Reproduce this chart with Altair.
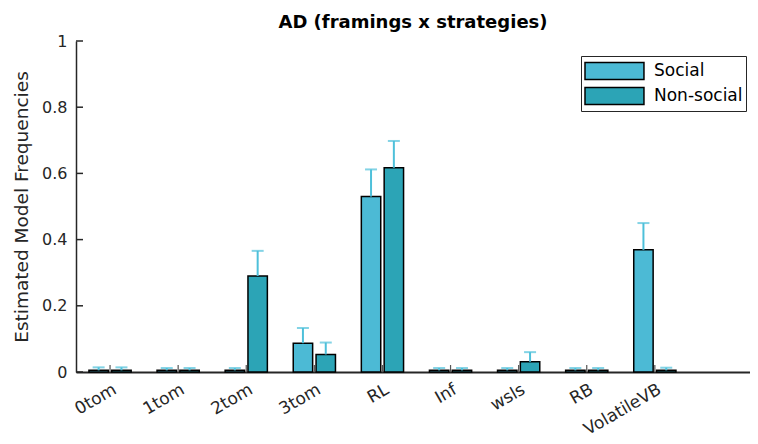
import altair as alt
import pandas as pd

categories = ["0tom", "1tom", "2tom", "3tom", "RL", "Inf", "wsls", "RB", "VolatileVB"]
blank_slot = [" "]
series = ["Social", "Non-social"]
social = [0.005, 0.005, 0.005, 0.087, 0.530, 0.005, 0.005, 0.005, 0.369]
nonsocial = [0.005, 0.005, 0.290, 0.053, 0.617, 0.005, 0.031, 0.005, 0.005]
social_upper = [0.014, 0.012, 0.012, 0.133, 0.612, 0.012, 0.012, 0.012, 0.450]
nonsocial_upper = [0.014, 0.012, 0.366, 0.089, 0.698, 0.012, 0.060, 0.012, 0.013]
y_ticks = [0, 0.2, 0.4, 0.6, 0.8, 1]

rows = []
for i, c in enumerate(categories):
    rows.append({"cat": c, "grp": "Social", "val": social[i], "up": social_upper[i]})
    rows.append({"cat": c, "grp": "Non-social", "val": nonsocial[i], "up": nonsocial_upper[i]})
df = pd.DataFrame(rows)

W, H = 674, 331
FONT = "DejaVu Sans"
TXT = "#262626"

xscale = alt.Scale(domain=categories + blank_slot, paddingInner=0.38, paddingOuter=0.19, range=[0, 681])
xoff = alt.XOffset("grp:N", scale=alt.Scale(domain=series, paddingInner=0.15))
yscale = alt.Scale(domain=[0, 1], nice=False)

x_enc = alt.X("cat:N", scale=xscale, sort=None,
              axis=alt.Axis(values=categories, ticks=False, labelAngle=-30, labelAlign="right",
                            labelBaseline="top", labelPadding=9, labelOffset=1, title=None,
                            domainColor=TXT, domainWidth=2, labelFontSize=17, labelColor=TXT,
                            labelFont=FONT))
y_enc = alt.Y("val:Q", scale=yscale,
              axis=alt.Axis(values=y_ticks, ticks=False, format="~g", title="Estimated Model Frequencies",
                            titleFontSize=18.5, titleFontWeight="normal", titleColor=TXT, titleFont=FONT,
                            labelFontSize=16, labelColor=TXT, labelFont=FONT, labelPadding=9,
                            titlePadding=10, domainColor=TXT, domainWidth=1.5, grid=False))

bars = alt.Chart(df).mark_bar(stroke="black", strokeWidth=1.5).encode(
    x=x_enc,
    xOffset=xoff,
    y=y_enc,
    color=alt.Color("grp:N", scale=alt.Scale(domain=series, range=["#4CBAD5", "#2CA4B6"]),
                    legend=alt.Legend(title=None, orient="none", legendX=505, legendY=15,
                                      strokeColor="#262626", fillColor="white", padding=3,
                                      symbolType="M-1,-0.773H4.36V0.773H-1Z", symbolSize=484,
                                      symbolStrokeColor="black", symbolStrokeWidth=1.5,
                                      labelFontSize=17, labelFont=FONT, labelColor="black",
                                      labelOffset=46, rowPadding=1)),
)

err_color = "#4EC0DA"
stems = alt.Chart(df).mark_rule(color=err_color, strokeWidth=2).encode(
    x=alt.X("cat:N", scale=xscale, sort=None),
    xOffset=xoff,
    y=alt.Y("val:Q", scale=yscale),
    y2="up:Q",
)
caps = alt.Chart(df).mark_tick(color=err_color, thickness=2, size=12, orient="horizontal").encode(
    x=alt.X("cat:N", scale=xscale, sort=None),
    xOffset=xoff,
    y=alt.Y("up:Q", scale=yscale),
)

xticks = alt.Chart(pd.DataFrame({"cat": categories})).mark_rule(color="#555555", strokeWidth=1.2).encode(
    x=alt.X("cat:N", scale=xscale, sort=None),
    y=alt.value(H),
    y2=alt.value(H - 7),
)
yticks = alt.Chart(pd.DataFrame({"t": y_ticks})).mark_rule(color=TXT, strokeWidth=1.5).encode(
    y=alt.Y("t:Q", scale=yscale),
    x=alt.value(0),
    x2=alt.value(7),
)

chart = alt.layer(bars, stems, caps, xticks, yticks).properties(
    width=W, height=H,
    title=alt.TitleParams("AD (framings x strategies)", fontSize=18, font=FONT, fontWeight="bold",
                          color="black", anchor="middle", offset=1),
    autosize=alt.AutoSizeParams(type="none"),
    padding={"left": 68, "top": 33, "right": 0, "bottom": 70},
    background="white",
).configure_view(stroke=None)

chart.save("out.html", embed_options={"renderer": "svg", "actions": False})
